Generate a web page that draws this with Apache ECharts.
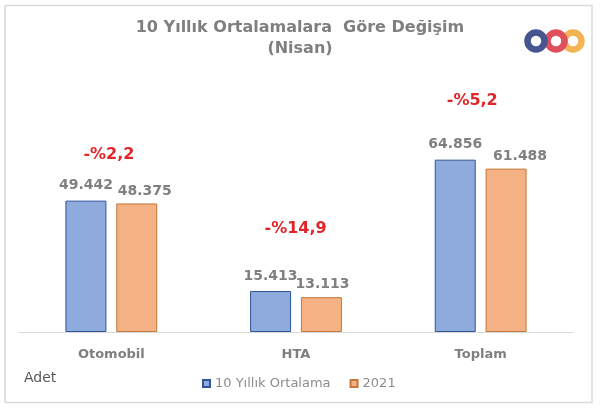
<!DOCTYPE html>
<html><head><meta charset="utf-8">
<script src="https://cdn.jsdelivr.net/npm/echarts@6/dist/echarts.min.js"></script>
<style>html,body{margin:0;padding:0;background:#fff}#c{width:600px;height:413px}</style>
</head><body><div id="c"></div>
<script>
const categories = ['Otomobil', 'HTA', 'Toplam'];
const avg10 = [49442, 15413, 64856];
const y2021 = [48375, 13113, 61488];
const changes = ['-%2,2', '-%14,9', '-%5,2'];
const seriesNames = ['10 Yıllık Ortalama', '2021'];
const titleText = '10 Yıllık Ortalamalara  Göre Değişim\n(Nisan)';
const unitText = 'Adet';

const fmt = v => v.toLocaleString('tr-TR');
const FONT = '"DejaVu Sans", "Open Sans", sans-serif';
const GRAY = '#7f7f7f';
const changeOffsets = [[23, -46], [25, -62], [17, -59]];
const orangeLabelOffsets = [[8, 1], [1, 0], [14, 1]];

const chart = echarts.init(document.getElementById('c'));
chart.setOption({
  animation: false,
  title: {
    text: titleText, left: 'center', top: 12,
    textStyle: { fontFamily: FONT, fontSize: 16, fontWeight: 'bold', color: GRAY, lineHeight: 21, align: 'center' }
  },
  legend: {
    data: seriesNames, left: 197, top: 372, itemWidth: 7, itemHeight: 7, itemGap: 19,
    icon: 'rect',
    textStyle: { fontFamily: FONT, fontSize: 13, color: '#8c8c8c' }
  },
  grid: { left: 19, right: 27, top: 146, bottom: 81 },
  xAxis: {
    type: 'category', data: categories,
    axisLine: { lineStyle: { color: '#d9d9d9' } }, axisTick: { show: false },
    axisLabel: { fontFamily: FONT, fontSize: 13, fontWeight: 'bold', color: GRAY, margin: 16 }
  },
  yAxis: { type: 'value', min: 0, max: 70000, show: false, splitLine: { show: false } },
  series: [
    {
      name: seriesNames[0], type: 'bar', data: avg10, barWidth: 41, barGap: '24%',
      itemStyle: { color: '#8faadc', borderColor: '#2f5597', borderWidth: 1 },
      label: { show: true, position: 'top', distance: 8, formatter: p => fmt(p.value),
        fontFamily: FONT, fontSize: 14, fontWeight: 'bold', color: GRAY },
      markPoint: {
        symbol: 'circle', symbolSize: 1,
        itemStyle: { color: 'rgba(0,0,0,0)' },
        label: { show: true, position: 'inside', fontFamily: FONT, fontSize: 16, fontWeight: 'bold', color: '#e0262b' },
        data: categories.map((c, i) => ({
          coord: [c, avg10[i]],
          label: { formatter: changes[i], offset: changeOffsets[i] }
        }))
      }
    },
    {
      name: seriesNames[1], type: 'bar', barWidth: 41,
      data: y2021.map((v, i) => ({ value: v, label: { offset: orangeLabelOffsets[i] } })),
      itemStyle: { color: '#f4b183', borderColor: '#c5763a', borderWidth: 1 },
      label: { show: true, position: 'top', distance: 6, formatter: p => fmt(p.value),
        fontFamily: FONT, fontSize: 14, fontWeight: 'bold', color: GRAY }
    }
  ],
  graphic: [
    { type: 'rect', shape: { x: 5, y: 5.5, width: 587, height: 397 }, style: { fill: 'none', stroke: '#d9d9d9', lineWidth: 1.5 }, z: -1 },
    { type: 'text', left: 24, top: 371, style: { text: unitText, fontFamily: FONT, fontSize: 14, fill: '#595959' } },
    { type: 'circle', shape: { cx: 573, cy: 41, r: 8.5 }, style: { fill: 'none', stroke: '#f2b455', lineWidth: 6.5 } },
    { type: 'circle', shape: { cx: 556, cy: 41, r: 8.5 }, style: { fill: 'none', stroke: '#e0505c', lineWidth: 6.5 } },
    { type: 'circle', shape: { cx: 536, cy: 41, r: 8.5 }, style: { fill: 'none', stroke: '#48568f', lineWidth: 6.5 } }
  ]
});
</script></body></html>
